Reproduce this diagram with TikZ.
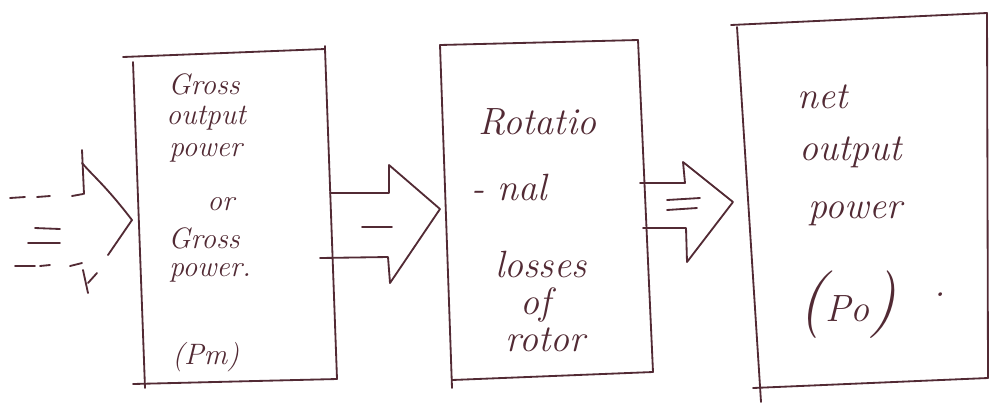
\documentclass[tikz,border=0pt]{standalone}
\definecolor{inkc}{RGB}{82,42,52}
\tikzset{
  ink/.style={draw=inkc, line width=1.3pt, line cap=round, line join=round},
  hand/.style={text=inkc, inner sep=0pt, font=\fontsize{27}{27}\selectfont\itshape},
  handsm/.style={text=inkc, inner sep=0pt, font=\fontsize{21}{21}\selectfont\itshape},
}
\begin{document}
\begin{tikzpicture}[x=0.025cm,y=-0.025cm]
\useasboundingbox (0,0) rectangle (990,404);

% ---------- box 1 ----------
\coordinate (b1tl) at (133,57);
\coordinate (b1tr) at (325,49);
\coordinate (b1br) at (337,379);
\coordinate (b1bl) at (145,384);
\draw[ink] (123,57) -- (b1tr) -- ++(0,-3);
\draw[ink] (b1tr) -- (b1br);
\draw[ink] (133,62) -- (145,388);
\draw[ink] (133,384) -- (b1br);

% ---------- box 2 ----------
\coordinate (b2tl) at (440,45);
\coordinate (b2tr) at (638,40);
\coordinate (b2br) at (653,372);
\coordinate (b2bl) at (452,380);
\draw[ink] (b2tl) -- (b2tr);
\draw[ink] (b2tl) -- (452,388);
\draw[ink] (b2tr) -- (b2br);
\draw[ink] (b2bl) -- (b2br);

% ---------- box 3 ----------
\coordinate (b3tl) at (737,27);
\coordinate (b3tr) at (987,13);
\coordinate (b3br) at (988,378);
\coordinate (b3bl) at (758,388);
\draw[ink] (731,25) -- (b3tr);
\draw[ink] (b3tl) -- (761,402);
\draw[ink] (b3tr) -- (b3br);
\draw[ink] (753,388) -- (b3br);

% ---------- input (dashed) arrow ----------
\coordinate (itip) at (132,220);
\draw[ink] (10,198) -- (25,197);
\draw[ink] (37,197) -- (50,196);
\draw[ink] (72,196) -- (83,194);
\draw[ink] (82,150) -- (84,194);
\draw[ink] (15,266) -- (35,266);
\draw[ink] (40,266) -- (50,265);
\draw[ink] (70,266) -- (82,263);
\draw[ink] (82,163) .. controls (95,178) and (105,185) .. (itip);
\draw[ink] (itip) -- (108,255);
\draw[ink] (83,270) -- (88,293);
\draw[ink] (88,283) -- (97,273);
\draw[ink] (35,228) -- (60,229);
\draw[ink] (28,243) -- (60,243);

% ---------- arrow 1 ----------
\coordinate (a1tip) at (440,209);
\draw[ink] (330,193) -- (389,193) -- (389,165) -- (a1tip) -- (390,283) -- (388,257) -- (320,258);
\draw[ink] (362,227) -- (392,227);

% ---------- arrow 2 ----------
\coordinate (a2tip) at (733,202);
\draw[ink] (640,183) -- (685,183) -- (683,162) -- (a2tip) -- (687,262) -- (686,228) -- (643,228);
\draw[ink] (667,200) -- (700,198);
\draw[ink] (667,210) -- (697,208);

% ---------- texts ----------
\node[handsm, anchor=west] (t1a) at (168,84) {Gross};
\node[handsm, anchor=west] (t1b) at (166,118) {output};
\node[handsm, anchor=west] (t1c) at (169,153) {power};
\node[handsm, anchor=west] (t1d) at (207,204) {or};
\node[handsm, anchor=west] (t1e) at (168,238) {Gross};
\node[handsm, anchor=west] (t1f) at (169,273) {power.};
\node[handsm, anchor=west] (t1g) at (172,357) {(Pm)};

\node[hand, anchor=west] (t2a) at (478,122) {Rotatio};
\node[hand, anchor=west] (t2b) at (471,188) {- nal};
\node[hand, anchor=west] (t2c) at (495,265) {losses};
\node[hand, anchor=west] (t2d) at (520,305) {of};
\node[hand, anchor=west] (t2e) at (505,340) {rotor};

\node[hand, anchor=west] (t3a) at (797,97) {net};
\node[hand, anchor=west] (t3b) at (799,152) {output};
\node[hand, anchor=west] (t3c) at (808,214) {power};
\node[hand, anchor=west] (t3d) at (798,305) {{\fontsize{48}{48}\selectfont(}Po{\fontsize{48}{48}\selectfont)}};
\node[hand, anchor=center] (t3e) at (940,295) {.};
\end{tikzpicture}
\end{document}
